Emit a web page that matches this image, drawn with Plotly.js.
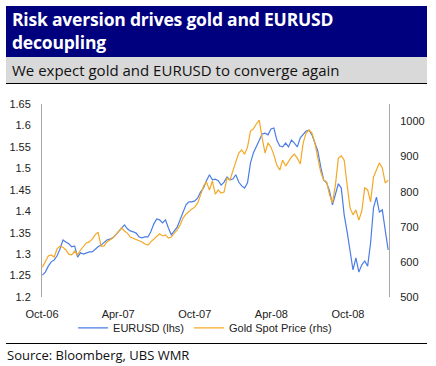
<!DOCTYPE html>
<html>
<head>
<meta charset="utf-8">
<script src="https://cdn.plot.ly/plotly-3.0.1.min.js"></script>
<style>
  html, body { margin: 0; padding: 0; background: #fff; }
  #wrap { position: relative; width: 436px; height: 366px; overflow: hidden; }
  #chart { position: absolute; left: 0; top: 0; width: 436px; height: 366px; }
  #head { position: absolute; left: 6px; top: 6px; width: 421px; height: 51px; background: #00007f; }
  #title { position: absolute; left: 6px; top: 2px; color: #fff; font-family: "Open Sans", sans-serif; font-weight: bold; font-size: 17.5px; line-height: 23px; letter-spacing: -0.2px; }
  #sub { position: absolute; left: 6px; top: 57px; width: 421px; height: 26px; background: #d9d9d9; border-bottom: 1px solid #000; }
  #subtext { position: absolute; left: 6px; top: 2px; color: #111; font-family: "Open Sans", sans-serif; font-size: 15px; line-height: 22px; }
  #srcline { position: absolute; left: 6px; top: 343px; width: 421px; height: 1px; background: #000; }
  #source { position: absolute; left: 7px; top: 346px; color: #111; font-family: "Open Sans", sans-serif; font-size: 13px; line-height: 18px; }
</style>
</head>
<body>
<div id="wrap">
  <div id="chart"></div>
  <div id="head"><div id="title">Risk aversion drives gold and EURUSD<br>decoupling</div></div>
  <div id="sub"><div id="subtext">We expect gold and EURUSD to converge again</div></div>
  <div id="srcline"></div>
  <div id="source">Source: Bloomberg, UBS WMR</div>
</div>
<script>
// Weekly observations starting Monday 2006-10-02
const startDate = '2006-10-02';
const eurusd = [
  1.251,1.258,1.272,1.282,1.286,1.296,1.312,1.333,1.328,1.324,
  1.317,1.319,1.293,1.303,1.300,1.303,1.305,1.305,1.312,1.317,
  1.321,1.328,1.333,1.335,1.338,1.345,1.352,1.361,1.368,1.359,
  1.354,1.352,1.349,1.340,1.338,1.340,1.340,1.352,1.370,1.382,
  1.380,1.373,1.380,1.361,1.345,1.354,1.363,1.380,1.396,1.415,
  1.422,1.422,1.424,1.431,1.445,1.454,1.471,1.485,1.473,1.475,
  1.471,1.461,1.468,1.480,1.473,1.475,1.485,1.468,1.459,1.454,
  1.466,1.512,1.536,1.550,1.564,1.580,1.582,1.578,1.592,1.594,
  1.566,1.552,1.550,1.559,1.550,1.566,1.559,1.550,1.571,1.580,
  1.587,1.589,1.578,1.559,1.540,1.503,1.473,1.466,1.447,1.415,
  1.438,1.464,1.454,1.391,1.352,1.310,1.263,1.291,1.258,1.275,
  1.284,1.272,1.326,1.408,1.433,1.398,1.403,1.356,1.310
];
const gold = [
  585,600,617,620,614,637,645,642,634,622,
  620,631,620,634,645,654,657,665,677,685,
  645,645,657,662,668,677,688,697,688,682,
  671,668,665,662,657,651,648,657,665,674,
  680,674,677,668,671,682,691,705,725,736,
  745,751,756,768,791,816,828,805,830,793,
  805,796,799,839,833,862,885,910,919,907,
  927,973,979,993,1004,953,910,939,927,905,
  876,862,890,873,885,899,907,896,879,939,
  967,976,967,939,896,856,833,828,791,768,
  819,896,902,890,819,754,734,748,719,745,
  811,805,771,842,862,882,868,825,833
];
const tickDates = ['2006-10-01','2007-04-01','2007-10-01','2008-04-01','2008-10-01'];
const tickLabels = ['Oct-06','Apr-07','Oct-07','Apr-08','Oct-08'];
const seriesNames = ['EURUSD (lhs)', 'Gold Spot Price (rhs)'];

const dates = [];
const d0 = new Date(startDate + 'T00:00:00Z');
for (let i = 0; i < eurusd.length; i++) {
  const d = new Date(d0.getTime() + i * 7 * 86400000);
  dates.push(d.toISOString().slice(0, 10));
}

const traces = [
  { x: dates, y: eurusd, name: seriesNames[0], type: 'scatter', mode: 'lines',
    line: { color: '#4a7de6', width: 1.2 }, yaxis: 'y' },
  { x: dates, y: gold, name: seriesNames[1], type: 'scatter', mode: 'lines',
    line: { color: '#f4a825', width: 1.2 }, yaxis: 'y2' }
];

const axisFont = { family: '"Liberation Sans", Arial, sans-serif', size: 11, color: '#222' };

const layout = {
  width: 436, height: 366,
  margin: { l: 42, r: 47, t: 104, b: 69, pad: 0 },
  paper_bgcolor: 'rgba(0,0,0,0)', plot_bgcolor: '#fff',
  font: axisFont,
  showlegend: true,
  legend: { orientation: 'h', x: 0.47, xanchor: 'center', y: -0.16, yanchor: 'middle',
            font: axisFont, bgcolor: 'rgba(0,0,0,0)', tracegroupgap: 0, itemwidth: 30 },
  xaxis: {
    type: 'date', range: ['2006-10-01', '2009-01-07'],
    tickmode: 'array', tickvals: tickDates, ticktext: tickLabels,
    showgrid: false, zeroline: false, showline: false, ticks: '',
    ticklabelstandoff: 9, tickfont: axisFont
  },
  yaxis: {
    range: [1.2, 1.65], dtick: 0.05, tick0: 1.2,
    showgrid: false, zeroline: false, showline: true, linecolor: '#a8a8a8', linewidth: 1,
    ticks: '', ticklabelstandoff: 8, tickfont: axisFont
  },
  yaxis2: {
    range: [500, 1050], dtick: 100, tick0: 500, overlaying: 'y', side: 'right',
    showgrid: false, zeroline: false, showline: true, linecolor: '#a8a8a8', linewidth: 1,
    ticks: '', ticklabelstandoff: 8, tickfont: axisFont
  }
};

Plotly.newPlot('chart', traces, layout, { displayModeBar: false, staticPlot: true });
</script>
</body>
</html>
